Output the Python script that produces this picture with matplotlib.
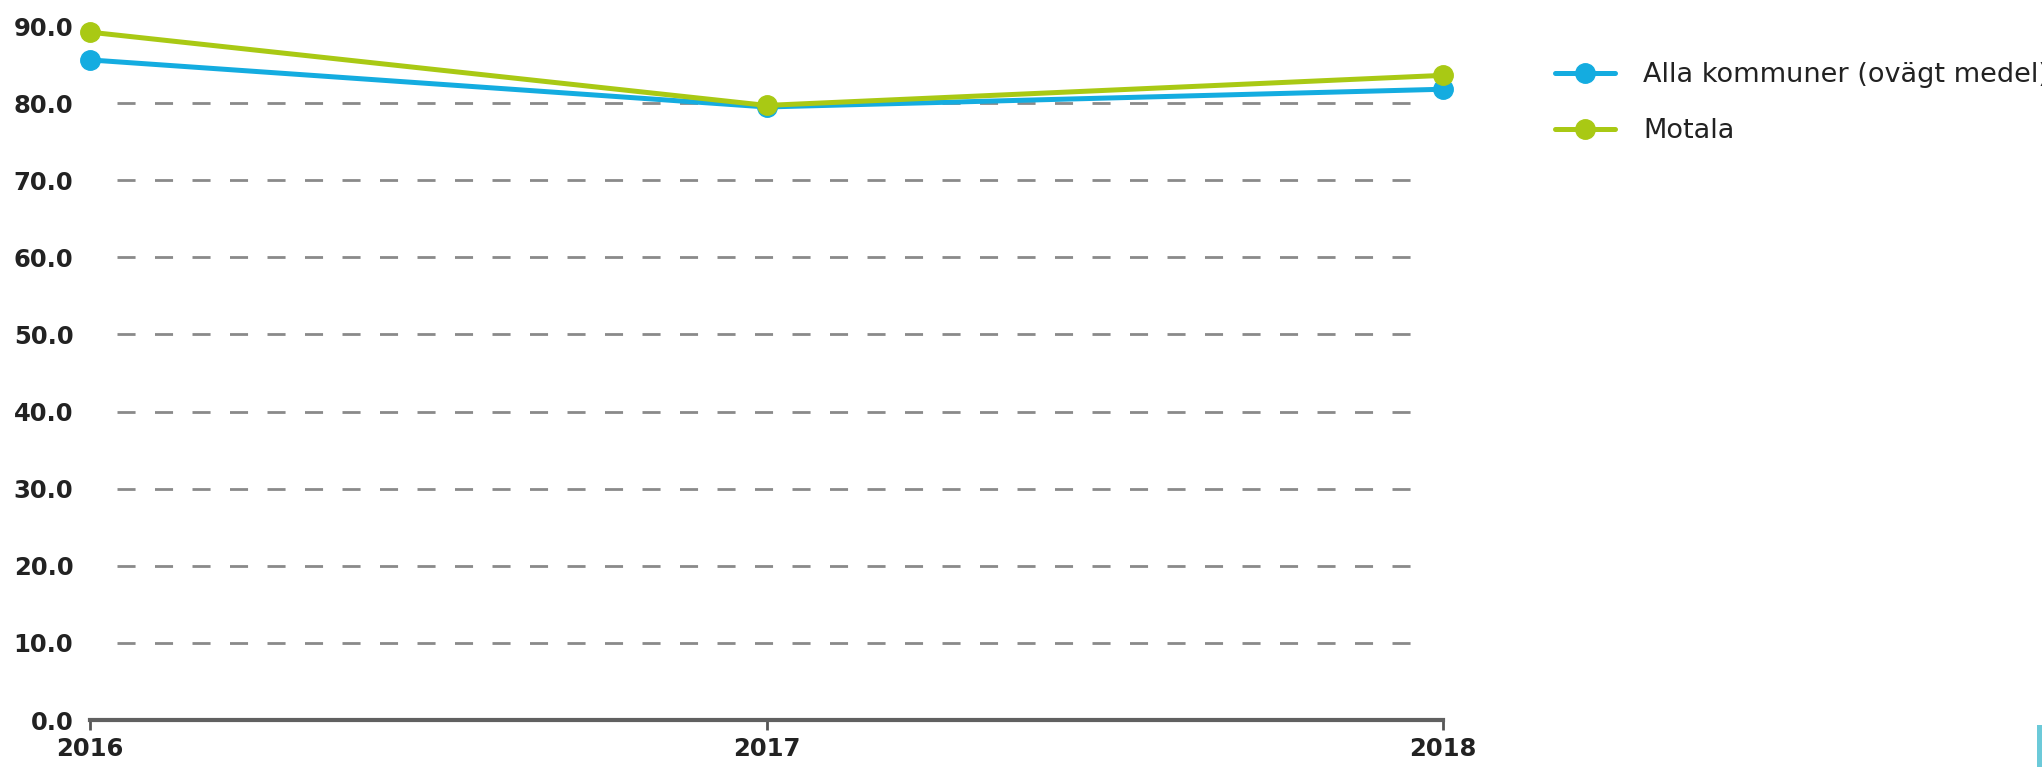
import matplotlib
matplotlib.use("Agg")
import matplotlib.pyplot as plt
from matplotlib.patches import Rectangle

years = [2016, 2017, 2018]
series_names = ["Alla kommuner (ovägt medel)", "Motala"]
alla = [85.6, 79.5, 81.8]
motala = [89.2, 79.7, 83.6]
colors = ["#14ACE0", "#A9C914"]
yticks = [0, 10, 20, 30, 40, 50, 60, 70, 80, 90]
grid_levels = [10, 20, 30, 40, 50, 60, 70, 80]

W, H = 2042, 767
fig = plt.figure(figsize=(W / 100, H / 100), dpi=100)
ax = fig.add_axes([90 / W, 47 / H, (1443 - 90) / W, (720 - 26) / H])

# dashed gridlines (inset from the axis ends)
ax.hlines(grid_levels, 0.02, 0.976, transform=ax.get_yaxis_transform(),
          colors="#8a8a8a", linewidth=2, linestyles=(0, (6.5, 7)), zorder=1)

for vals, name, c in zip([alla, motala], series_names, colors):
    ax.plot(years, vals, color=c, linewidth=3.6, marker="o", markersize=14,
            label=name, clip_on=False, zorder=3, solid_capstyle="round")

ax.set_xlim(2016, 2018)
ax.set_ylim(0, 90)
ax.set_xticks(years)
ax.set_xticklabels([str(y) for y in years], fontsize=17.5, fontweight="bold", color="#222222")
ax.set_yticks(yticks)
ax.set_yticklabels([f"{v:.1f}" for v in yticks], fontsize=17.5, fontweight="bold", color="#222222")
ax.tick_params(axis="y", length=0, pad=12)
ax.tick_params(axis="x", length=7, width=2, color="#555555", pad=5, direction="out")

for s in ["top", "right", "left"]:
    ax.spines[s].set_visible(False)
ax.spines["bottom"].set_color("#606060")
ax.spines["bottom"].set_linewidth(3)

leg = ax.legend(loc="upper left", bbox_to_anchor=(1555 / W, 1 - 62 / H),
                bbox_transform=fig.transFigure, frameon=False, fontsize=19.5,
                handlelength=2.2, handletextpad=1.05, labelspacing=1.12,
                borderaxespad=0, borderpad=0)
for t in leg.get_texts():
    t.set_color("#222222")

# small decorative corner element
fig.patches.append(Rectangle((2037 / W, 0), 5 / W, 42 / H, transform=fig.transFigure,
                             facecolor="#6CCAD9", edgecolor="none"))

fig.savefig("out.png", dpi=100)
